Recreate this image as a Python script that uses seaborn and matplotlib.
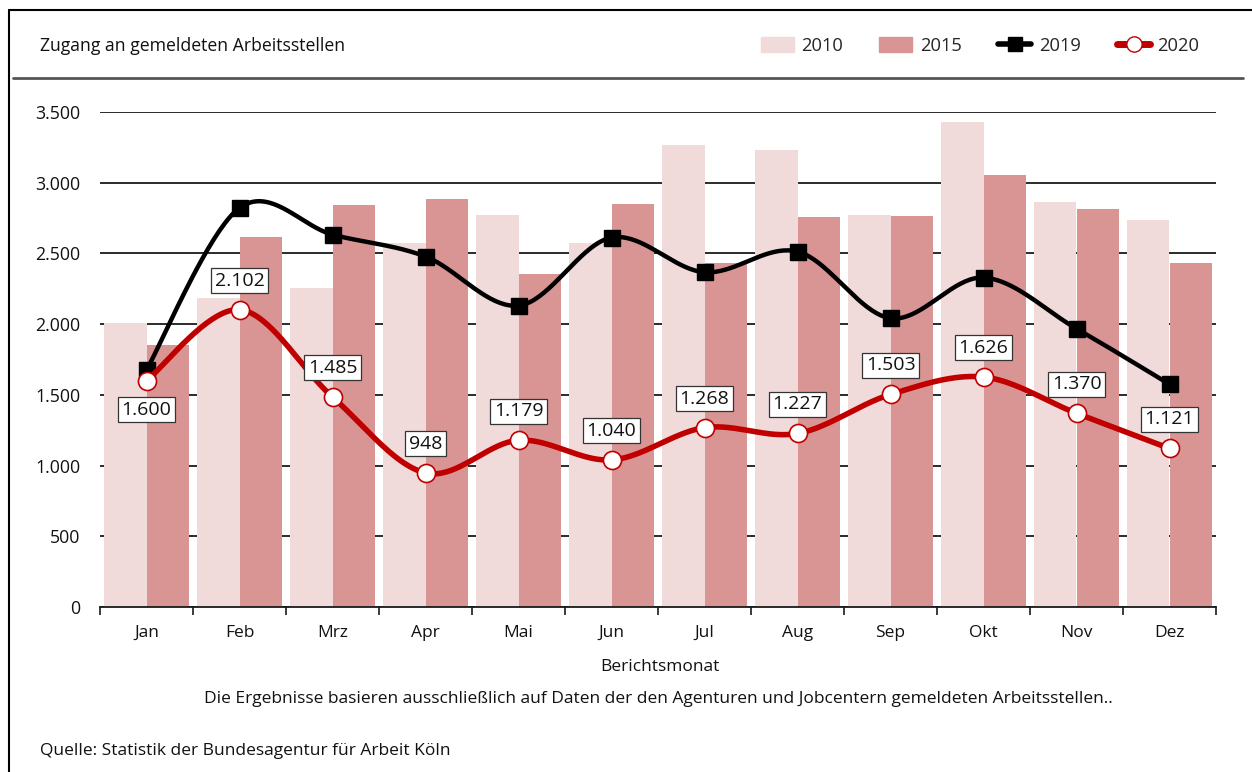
import numpy as np
import pandas as pd
import seaborn as sns
import matplotlib.pyplot as plt
from matplotlib.lines import Line2D
from matplotlib.patches import Patch
from matplotlib.ticker import FuncFormatter, FixedLocator

months = ['Jan', 'Feb', 'Mrz', 'Apr', 'Mai', 'Jun', 'Jul', 'Aug', 'Sep', 'Okt', 'Nov', 'Dez']
v2010 = [2010, 2185, 2256, 2574, 2772, 2576, 3267, 3234, 2772, 3430, 2864, 2735]
v2015 = [1855, 2617, 2843, 2885, 2355, 2848, 2431, 2758, 2765, 3053, 2815, 2431]
v2019 = [1676, 2822, 2633, 2478, 2131, 2612, 2367, 2513, 2042, 2329, 1968, 1575]
v2020 = [1600, 2102, 1485, 948, 1179, 1040, 1268, 1227, 1503, 1626, 1370, 1121]
# label below the point only for January
label_below = ['Jan']

C2010 = '#F0DADA'
C2015 = '#D99594'
CRED = '#C00000'

sns.set_theme(style='white')
plt.rcParams['font.family'] = ['Open Sans', 'DejaVu Sans']


def smooth(xs, ys, n=40):
    # Catmull-Rom curve through the points (like Excel "smoothed line")
    pts = np.column_stack([xs, ys]).astype(float)
    p = np.vstack([pts[0], pts, pts[-1]])
    t = np.linspace(0, 1, n, endpoint=False)[:, None]
    out = []
    for i in range(1, len(p) - 2):
        p0, p1, p2, p3 = p[i - 1], p[i], p[i + 1], p[i + 2]
        seg = 0.5 * (2 * p1 + (-p0 + p2) * t
                     + (2 * p0 - 5 * p1 + 4 * p2 - p3) * t ** 2
                     + (-p0 + 3 * p1 - 3 * p2 + p3) * t ** 3)
        out.append(seg)
    out.append(pts[-1:])
    return np.vstack(out)


df = pd.DataFrame({
    'Monat': months * 2,
    'Jahr': ['2010'] * 12 + ['2015'] * 12,
    'Wert': v2010 + v2015,
})

W, H = 1252, 772
fig = plt.figure(figsize=(W / 100, H / 100), dpi=100)
ax = fig.add_axes([100 / W, 1 - 607 / H, (1216 - 100) / W, (607 - 112) / H])

sns.barplot(data=df, x='Monat', y='Wert', hue='Jahr', order=months,
            palette={'2010': C2010, '2015': C2015}, width=0.92,
            saturation=1, linewidth=0, ax=ax, legend=False, zorder=2)

xs = np.arange(len(months))
s19 = smooth(xs, v2019)
ax.plot(s19[:, 0], s19[:, 1], color='black', lw=3.2, zorder=4, solid_capstyle='round')
ax.plot(xs, v2019, ls='none', marker='s', ms=11, color='black', zorder=5)

s20 = smooth(xs, v2020)
ax.plot(s20[:, 0], s20[:, 1], color=CRED, lw=4, zorder=6, solid_capstyle='round')
ax.plot(xs, v2020, ls='none', marker='o', ms=13, mfc='white', mec=CRED, mew=1.2, zorder=7)

for i, (m, v) in enumerate(zip(months, v2020)):
    dy = -21 if m in label_below else 21
    ax.annotate(f'{v:,}'.replace(',', '.'), (i, v), xytext=(0, dy),
                textcoords='offset points', ha='center', va='center', fontsize=14,
                color='#111111', zorder=8,
                bbox=dict(boxstyle='square,pad=0.18', fc='white', ec='#333333', lw=0.9))

ax.set_xlim(-0.5, 11.5)
ax.set_ylim(0, 3500)
ax.set_yticks(range(0, 3501, 500))
ax.yaxis.set_major_formatter(FuncFormatter(lambda v, p: f'{int(v):,}'.replace(',', '.')))
ax.yaxis.grid(True, color='#1a1a1a', lw=1.3)
ax.xaxis.grid(False)
ax.set_axisbelow(True)
for s in ['left', 'right', 'top']:
    ax.spines[s].set_visible(False)
ax.spines['bottom'].set_color('#1a1a1a')
ax.spines['bottom'].set_linewidth(1.3)
ax.xaxis.set_minor_locator(FixedLocator(np.arange(-0.5, 12, 1)))
ax.tick_params(axis='x', which='minor', length=6, width=1.2, color='#1a1a1a', bottom=True)
ax.tick_params(axis='x', which='major', length=0, pad=13, labelsize=12.5, colors='#111111')
ax.tick_params(axis='y', length=0, pad=14, labelsize=12.8, colors='#111111')
ax.set_xlabel('')
ax.set_ylabel('')

fig.text(660 / W, 1 - 667 / H, 'Berichtsmonat', ha='center', va='center', fontsize=12.5, color='#111111')
fig.text(658 / W, 1 - 699 / H,
         'Die Ergebnisse basieren ausschließlich auf Daten der den Agenturen und Jobcentern gemeldeten Arbeitsstellen..',
         ha='center', va='center', fontsize=12.5, color='#111111')
fig.text(40 / W, 1 - 751 / H, 'Quelle: Statistik der Bundesagentur für Arbeit Köln',
         ha='left', va='center', fontsize=12.5, color='#111111')
fig.text(40 / W, 1 - 46 / H, 'Zugang an gemeldeten Arbeitsstellen',
         ha='left', va='center', fontsize=12.7, color='#111111')

handles = [
    Patch(color=C2010, label='2010'),
    Patch(color=C2015, label='2015'),
    Line2D([], [], color='black', lw=4, marker='s', ms=10, label='2019'),
    Line2D([], [], color=CRED, lw=5, marker='o', ms=11, mfc='white', mec=CRED, label='2020'),
]
fig.legend(handles=handles, loc='center right', bbox_to_anchor=(1216 / W, 1 - 46 / H),
           ncol=4, frameon=False, fontsize=13.2, handlelength=1.8, handleheight=0.9,
           handletextpad=0.4, columnspacing=2.0)

# frame lines of the chart box
fig.add_artist(Line2D([9 / W, 9 / W], [0, 1 - 10 / H], color='black', lw=1.5))
fig.add_artist(Line2D([9 / W, 1], [1 - 10 / H, 1 - 10 / H], color='black', lw=1.5))
fig.add_artist(Line2D([13 / W, 1243 / W], [1 - 78 / H, 1 - 78 / H], color='#555555', lw=2))

fig.savefig('out.png', dpi=100)
